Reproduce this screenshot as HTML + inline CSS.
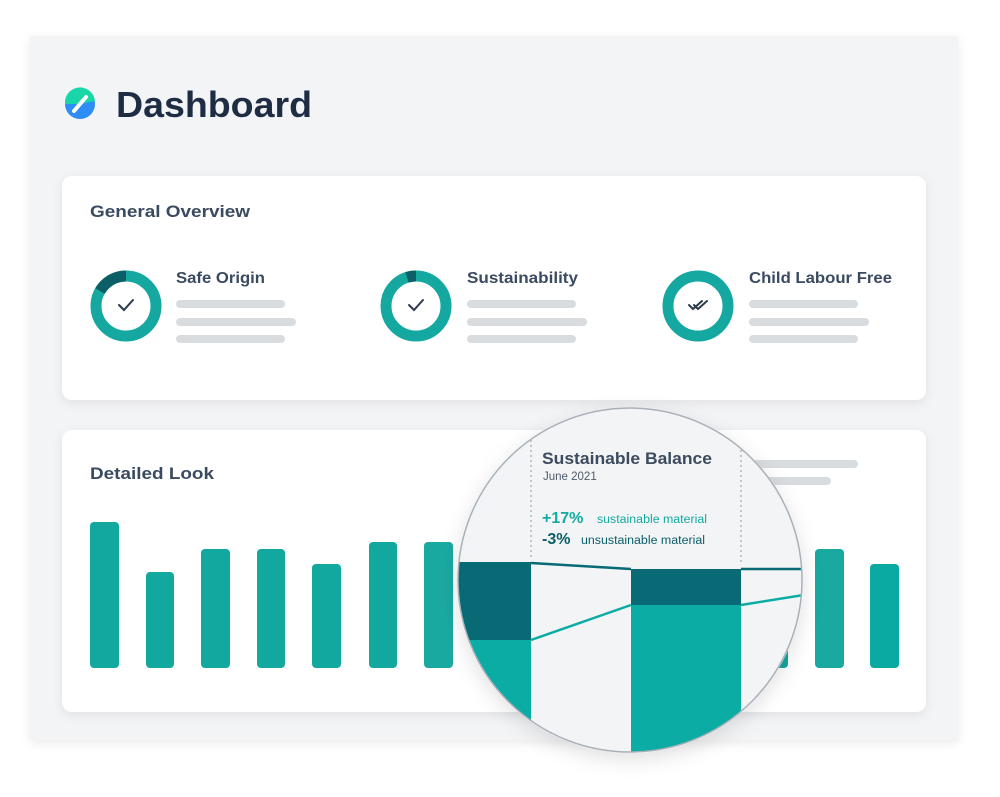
<!DOCTYPE html>
<html><head><style>
html,body{margin:0;padding:0;background:#fff;}
svg text{font-family:"Liberation Sans",sans-serif;}
</style></head><body>
<svg width="1000" height="792" viewBox="0 0 1000 792" xmlns="http://www.w3.org/2000/svg">
<defs>
<filter id="sh" x="-10%" y="-10%" width="120%" height="130%"><feDropShadow dx="0" dy="3" stdDeviation="5" flood-color="#000" flood-opacity="0.08"/></filter>
<filter id="sh2" x="-20%" y="-20%" width="140%" height="140%"><feDropShadow dx="0" dy="6" stdDeviation="10" flood-color="#000" flood-opacity="0.12"/></filter>
<clipPath id="cc"><circle cx="630" cy="580" r="172"/></clipPath>
</defs>
<rect x="30" y="36" width="928" height="704" fill="#f3f4f6" filter="url(#sh)"/>
<!-- logo -->
<circle cx="80" cy="104" r="15" fill="#2e8cf5"/>
<path d="M65,104 A15,15 0 0 1 95,101 L80,104 Z" fill="#19d6a8"/>
<path d="M74,111 L86,97" stroke="#fff" stroke-width="4" stroke-linecap="round"/>
<text x="116" y="117" font-size="36" font-weight="bold" fill="#1f2d44" textLength="196" lengthAdjust="spacingAndGlyphs">Dashboard</text>
<!-- card 1 -->
<rect x="62" y="176" width="864" height="224" rx="10" fill="#fff" filter="url(#sh)"/>
<text x="90" y="217" font-size="17" font-weight="bold" fill="#3a4a60" textLength="160" lengthAdjust="spacingAndGlyphs">General Overview</text>
<g fill="none" stroke-width="11">
<circle cx="126" cy="306" r="30" stroke="#15a8a0"/>
<path d="M126,276 A30,30 0 0 0 100,291" stroke="#0c5f66"/>
<circle cx="416" cy="306" r="30" stroke="#15a8a0"/>
<path d="M416,276 A30,30 0 0 0 407,277.4" stroke="#0c5f66"/>
<circle cx="698" cy="306" r="30" stroke="#15a8a0"/>
</g>
<g fill="none" stroke="#2c3a4c" stroke-width="2" stroke-linecap="round">
<path d="M119,305 L124,310 L133,300"/>
<path d="M409,305 L414,310 L423,300"/>
<path d="M689,305 L693,309 L702,301 M694,305 L698,309 L707,301"/>
</g>
<g font-size="16" font-weight="bold" fill="#3a4a60">
<text x="176" y="283" textLength="89" lengthAdjust="spacingAndGlyphs">Safe Origin</text>
<text x="467" y="283" textLength="111" lengthAdjust="spacingAndGlyphs">Sustainability</text>
<text x="749" y="283" textLength="143" lengthAdjust="spacingAndGlyphs">Child Labour Free</text>
</g>
<g stroke="#d8dcdf" stroke-width="8" stroke-linecap="round">
<path d="M180,304H281M180,322H292M180,339H281"/>
<path d="M471,304H572M471,322H583M471,339H572"/>
<path d="M753,304H854M753,322H865M753,339H854"/>
</g>
<!-- card 2 -->
<rect x="62" y="430" width="864" height="282" rx="10" fill="#fff" filter="url(#sh)"/>
<text x="90" y="479" font-size="17" font-weight="bold" fill="#3a4a60" textLength="124" lengthAdjust="spacingAndGlyphs">Detailed Look</text>
<g stroke="#d8dcdf" stroke-width="8" stroke-linecap="round"><path d="M752,464H854M752,481H827"/></g>
<g fill="#12a8a0">
<rect x="90" y="522" width="29" height="146" rx="4"/>
<rect x="146" y="572" width="28" height="96" rx="4"/>
<rect x="201" y="549" width="29" height="119" rx="4"/>
<rect x="257" y="549" width="28" height="119" rx="4"/>
<rect x="312" y="564" width="29" height="104" rx="4"/>
<rect x="369" y="542" width="28" height="126" rx="4"/>
<rect x="424" y="542" width="29" height="126" rx="4" fill="#1aa9a1"/>
<rect x="760" y="560" width="28" height="108" rx="4"/>
<rect x="815" y="549" width="29" height="119" rx="4" fill="#19a9a1"/>
<rect x="870" y="564" width="29" height="104" rx="4" fill="#0aa9a1"/>
</g>
<!-- magnifier -->
<circle cx="630" cy="580" r="173" fill="#f4f5f7" filter="url(#sh2)"/>
<g clip-path="url(#cc)">
<rect x="440" y="400" width="380" height="360" fill="#f3f4f6"/>
<rect x="440" y="562" width="91" height="78" fill="#086a74"/>
<rect x="440" y="640" width="91" height="120" fill="#0aaca4"/>
<rect x="631" y="569" width="110" height="36" fill="#086a74"/>
<rect x="631" y="605" width="110" height="160" fill="#0aaca4"/>
<path d="M531,563 L631,569 M741,569 L810,569" stroke="#086a74" stroke-width="2.5" fill="none"/>
<path d="M531,640 L631,605 M741,605 L810,594" stroke="#0aaca4" stroke-width="2.5" fill="none"/>
<path d="M531,410 V560 M741,410 V565" stroke="#a8aeb5" stroke-width="1.3" stroke-dasharray="2,3"/>
<text x="542" y="464" font-size="17" font-weight="bold" fill="#3d4b5e" textLength="170" lengthAdjust="spacingAndGlyphs">Sustainable Balance</text>
<text x="543" y="480" font-size="11.5" fill="#4e5a68">June 2021</text>
<text x="542" y="523" font-size="16" font-weight="bold" fill="#12aaa2">+17%</text>
<text x="597" y="523" font-size="11.5" fill="#12aaa2" textLength="110" lengthAdjust="spacingAndGlyphs">sustainable material</text>
<text x="542" y="544" font-size="16" font-weight="bold" fill="#0a5e68">-3%</text>
<text x="581" y="544" font-size="11.5" fill="#0a5e68" textLength="124" lengthAdjust="spacingAndGlyphs">unsustainable material</text>
</g>
<circle cx="630" cy="580" r="172" fill="none" stroke="#a9b0b8" stroke-width="1.5"/>
</svg>
</body></html>
